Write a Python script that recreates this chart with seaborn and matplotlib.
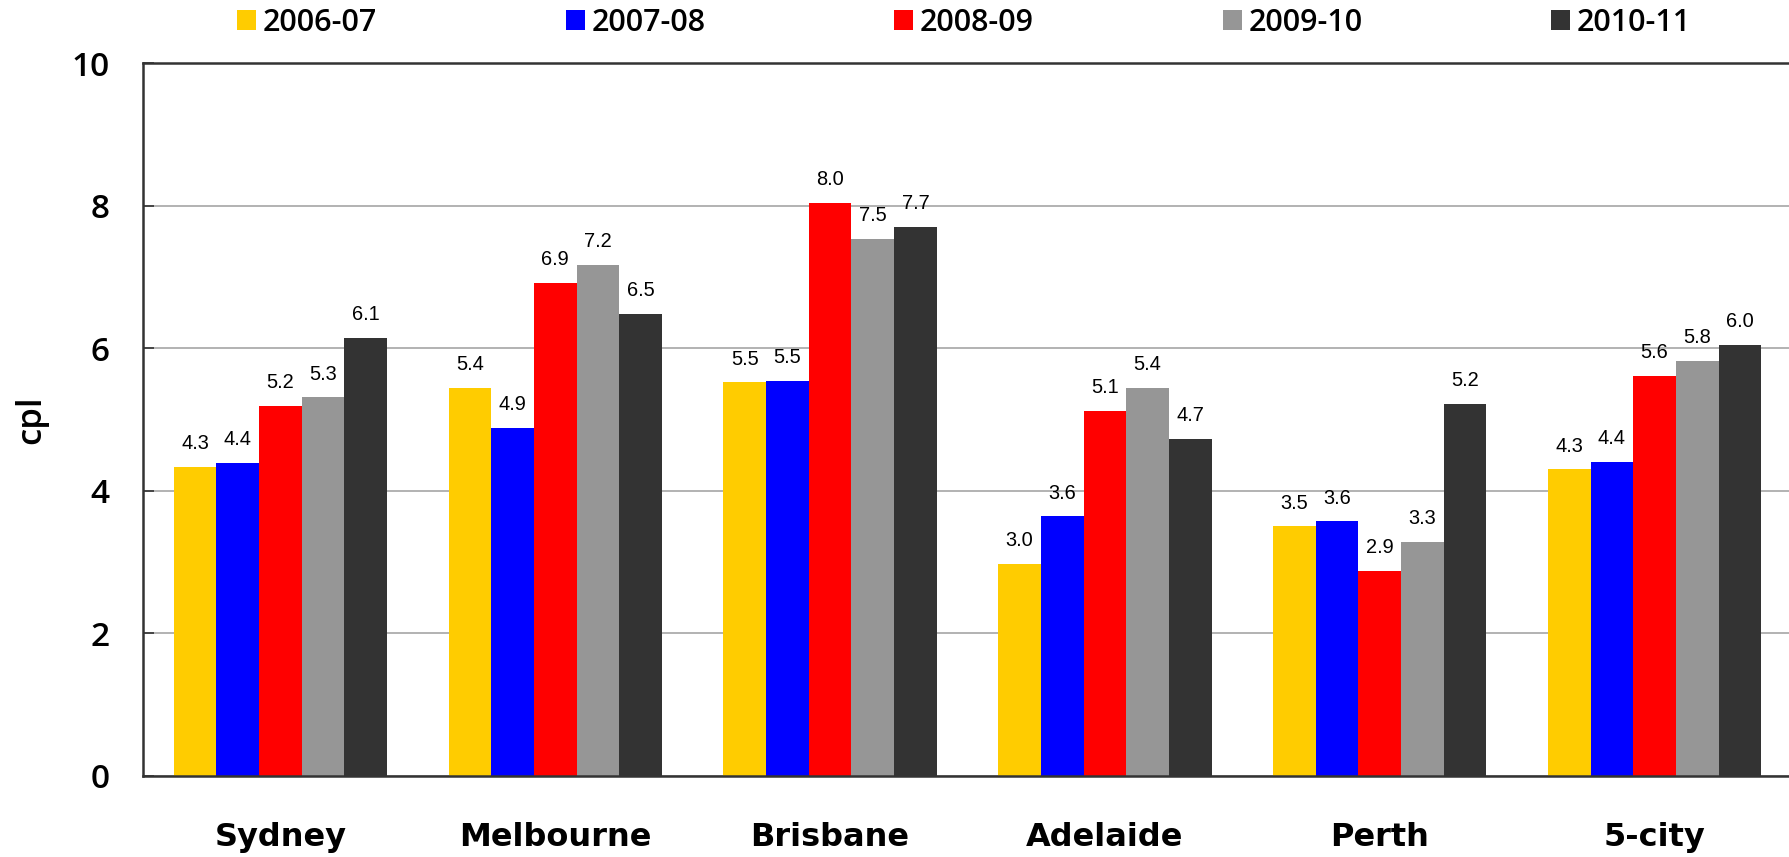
import matplotlib
matplotlib.use("Agg")
import matplotlib.pyplot as plt
import seaborn as sns
import pandas as pd
from matplotlib.ticker import FixedLocator

cities = ["Sydney", "Melbourne", "Brisbane", "Adelaide", "Perth", "5-city"]
years = ["2006-07", "2007-08", "2008-09", "2009-10", "2010-11"]
v2006 = [4.33, 5.44, 5.52, 2.97, 3.50, 4.30]
v2007 = [4.39, 4.88, 5.54, 3.64, 3.57, 4.40]
v2008 = [5.19, 6.91, 8.04, 5.12, 2.87, 5.61]
v2009 = [5.31, 7.17, 7.53, 5.44, 3.28, 5.82]
v2010 = [6.14, 6.48, 7.70, 4.73, 5.22, 6.04]
colors = ["#FFCC00", "#0000FF", "#FF0000", "#969696", "#333333"]

rows = []
for y, vals in zip(years, [v2006, v2007, v2008, v2009, v2010]):
    for c, v in zip(cities, vals):
        rows.append({"city": c, "year": y, "cpl": v})
df = pd.DataFrame(rows)

sns.set_theme(style="white")
plt.rcParams["font.family"] = ["DejaVu Sans"]
plt.rcParams["text.color"] = "black"
plt.rcParams["xtick.color"] = "black"
plt.rcParams["ytick.color"] = "black"
plt.rcParams["axes.labelcolor"] = "black"

fig = plt.figure(figsize=(17.89, 8.57), dpi=100)
ax = fig.add_axes([143/1789, 1-776/857, (1792-143)/1789, (776-63)/857])

sns.barplot(data=df, x="city", y="cpl", hue="year", order=cities, hue_order=years,
            palette=colors, width=0.776, saturation=1, ax=ax, legend=True, gap=0,
            linewidth=0, edgecolor="none")

for cont in ax.containers:
    ax.bar_label(cont, fmt="%.1f", padding=10, fontsize=14.4, family="Liberation Sans",
                 color="black")

ax.set_xlim(-0.5, 5.5)
ax.set_ylim(0, 10)
ax.set_yticks([0, 2, 4, 6, 8, 10])
ax.yaxis.grid(True, color="#a6a6a6", linewidth=1.2)
ax.set_axisbelow(True)
for s in ["left", "bottom", "top"]:
    ax.spines[s].set_visible(True)
    ax.spines[s].set_color("#333333")
    ax.spines[s].set_linewidth(1.8)
ax.spines["right"].set_visible(False)

ax.xaxis.set_minor_locator(FixedLocator([0.5, 1.5, 2.5, 3.5, 4.5]))
ax.tick_params(axis="x", which="major", length=0, pad=33, labelsize=23)
ax.tick_params(axis="x", which="minor", direction="in", length=12, width=1.2, color="#555555")
ax.tick_params(axis="y", direction="in", length=8, width=1.2, color="#333333", pad=24,
               labelsize=24, left=True)
for lab in ax.get_xticklabels():
    lab.set_fontweight("bold")
for lab in ax.get_yticklabels():
    lab.set_family("Open Sans")
    lab.set_fontweight("semibold")

ax.set_xlabel("")
ax.set_ylabel("cpl", fontsize=25, family="Open Sans", fontweight="semibold")
ax.yaxis.set_label_coords(-0.0576, 0.5)

handles, labels = ax.get_legend_handles_labels()
ax.get_legend().remove()
fs = 22
fig.legend(handles, labels, loc="center left", bbox_to_anchor=(237/1789, 1-23/857), ncol=5,
           frameon=False, prop={"size": fs, "family": "Open Sans", "weight": "semibold"},
           handlelength=0.62, handleheight=0.62, handletextpad=0.22, columnspacing=6.18,
           borderaxespad=0, borderpad=0)

fig.savefig("out.png", dpi=100)
